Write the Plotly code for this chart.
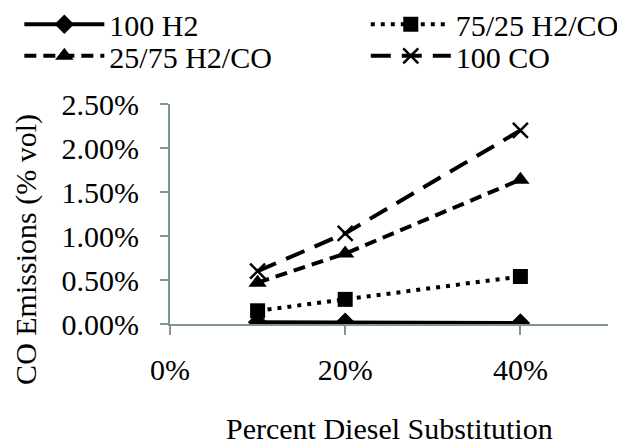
import plotly.graph_objects as go

x_sub = [0.10, 0.20, 0.40]
h2_100 = [0.0002, 0.0002, 0.0001]
h2co_75_25 = [0.0015, 0.0028, 0.0054]
h2co_25_75 = [0.0047, 0.0080, 0.0164]
co_100 = [0.0060, 0.0103, 0.0220]

series_names = ["100 H2", "75/25 H2/CO", "25/75 H2/CO", "100 CO"]
y_ticks = [0, 0.005, 0.01, 0.015, 0.02, 0.025]
x_ticks = [0, 0.2, 0.4]

FONT = "Liberation Serif"
FS = 30
AX = "#7d9595"

fig = go.Figure()
fig.add_trace(go.Scatter(x=x_sub, y=h2_100, name=series_names[0], mode="lines+markers",
                         legend="legend",
                         line=dict(color="black", width=4, dash="solid"),
                         marker=dict(symbol="diamond", size=15, color="black")))
fig.add_trace(go.Scatter(x=x_sub, y=h2co_75_25, name=series_names[1], mode="lines+markers",
                         legend="legend2",
                         line=dict(color="black", width=4, dash="4px,6px"),
                         marker=dict(symbol="square", size=15, color="black")))
fig.add_trace(go.Scatter(x=x_sub, y=h2co_25_75, name=series_names[2], mode="lines+markers",
                         legend="legend3",
                         line=dict(color="black", width=4, dash="12px,7px"),
                         marker=dict(symbol="triangle-up", size=16, color="black")))
fig.add_trace(go.Scatter(x=x_sub, y=co_100, name=series_names[3], mode="lines+markers",
                         legend="legend4",
                         line=dict(color="black", width=4, dash="20px,11px"),
                         marker=dict(symbol="x-thin-open", size=15, color="black",
                                     line=dict(color="black", width=2.5))))

def leg(xp, yp):
    return dict(x=xp, y=yp, xanchor="left", yanchor="middle", orientation="h",
                bgcolor="rgba(0,0,0,0)", borderwidth=0, itemwidth=80,
                font=dict(size=FS, family=FONT, color="black"))

# the page body has an 8px default margin, so the figure is sized 617x438
fig.update_layout(
    width=617, height=438,
    margin=dict(l=162, r=17, t=96, b=122, autoexpand=False),
    paper_bgcolor="white", plot_bgcolor="white",
    font=dict(family=FONT, size=FS, color="black"),
    showlegend=True,
    legend=leg(-0.344, 1.363),
    legend2=leg(0.447, 1.363),
    legend3=leg(-0.344, 1.219),
    legend4=leg(0.447, 1.219),
    xaxis=dict(range=[0, 0.5], tickvals=x_ticks, tickformat=".0%",
               showgrid=False, zeroline=False, showline=True, linecolor=AX, linewidth=2,
               ticks="outside", ticklen=9, tickcolor=AX, tickwidth=2,
               tickfont=dict(size=FS, family=FONT), ticklabelstandoff=9),
    yaxis=dict(range=[0, 0.025], tickvals=y_ticks, tickformat=".2%",
               showgrid=False, zeroline=False, showline=True, linecolor=AX, linewidth=2,
               ticks="outside", ticklen=8, tickcolor=AX, tickwidth=2,
               tickfont=dict(size=FS, family=FONT), ticklabelstandoff=15),
    annotations=[
        dict(text="CO Emissions (% vol)", textangle=-90, xref="paper", yref="paper",
             x=-0.329, y=0.341, xanchor="center", yanchor="middle", showarrow=False,
             font=dict(size=FS, family=FONT)),
        dict(text="Percent Diesel Substitution", xref="paper", yref="paper",
             x=0.5, y=-0.473, xanchor="center", yanchor="middle", showarrow=False,
             font=dict(size=FS, family=FONT)),
    ],
)

fig.write_html("out.html")
